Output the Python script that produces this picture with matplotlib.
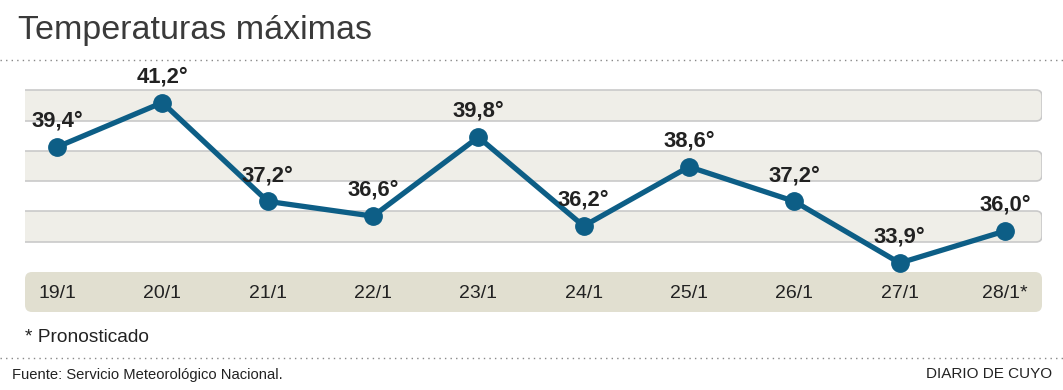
import numpy as np
import matplotlib
matplotlib.use('Agg')
from matplotlib import pyplot as plt
from matplotlib.patches import FancyBboxPatch
from matplotlib.lines import Line2D

plt.rcParams['font.family'] = ['Liberation Sans', 'DejaVu Sans']

# datos
dias = ['19/1', '20/1', '21/1', '22/1', '23/1', '24/1', '25/1', '26/1', '27/1', '28/1*']
temps = [39.4, 41.2, 37.2, 36.6, 39.8, 36.2, 38.6, 37.2, 33.9, 36.0]

W, H = 1063, 390
LINE = '#0d5e86'


def fx(px):
    return px / W


def fy(py):
    return 1 - py / H


def inch(px):
    return px / 100.0


# escala comprimida debajo de 36 grados (como en el original)
def fwd(t):
    t = np.asarray(t, dtype=float)
    return np.where(t >= 36, t, 36 - (36 - t) * 0.617)


def inv(f):
    f = np.asarray(f, dtype=float)
    return np.where(f >= 36, f, 36 - (36 - f) / 0.617)


fig = plt.figure(figsize=(10.63, 3.9), dpi=100)
ax = fig.add_axes([fx(25), fy(312), fx(1042) - fx(25), (312 - 80) / H])
ax.set_xlim(-0.304, 9.351)
ax.set_yscale('function', functions=(fwd, inv))
ax.set_ylim(float(inv(36 - (312 - 231) / 24.7)), 36 + (231 - 80) / 24.7)
ax.axis('off')

# franjas de fondo
for top, bot in [(90, 121), (151, 181), (211, 242)]:
    band = FancyBboxPatch((inch(5), inch(H - bot)), inch(1042 - 5), inch(bot - top),
                          boxstyle='round,pad=0,rounding_size=0.06',
                          transform=fig.dpi_scale_trans, facecolor='#efeee8',
                          edgecolor='#c9c9c9', linewidth=1.2, zorder=0)
    ax.add_patch(band)

date_band = FancyBboxPatch((inch(25), inch(H - 312)), inch(1042 - 25), inch(312 - 272),
                           boxstyle='round,pad=0,rounding_size=0.07',
                           transform=fig.dpi_scale_trans, facecolor='#e1dfd0',
                           edgecolor='none', zorder=0, clip_on=False)
ax.add_patch(date_band)

x = np.arange(len(temps))
ax.plot(x, temps, color=LINE, linewidth=3.8, marker='o', markersize=12.5,
        zorder=3, clip_on=False)

for i, v in enumerate(temps):
    lab = f"{v:.1f}".replace('.', ',') + '°'
    ax.annotate(lab, (i, v), xytext=(0, 11), textcoords='offset points',
                ha='center', va='bottom', fontsize=15.8, fontweight='bold',
                color='#222222', zorder=4, annotation_clip=False)

yd = (312 - 293) / (312 - 80)
for i, d in enumerate(dias):
    ax.text(i, yd, d, transform=ax.get_xaxis_transform(), ha='center', va='center',
            fontsize=14, color='#222222')

# textos
fig.text(fx(18), fy(39), 'Temperaturas máximas', fontsize=24.5, color='#3a3a3a',
         va='baseline', ha='left')
fig.add_artist(Line2D([0, 1], [fy(60), fy(60)], transform=fig.transFigure,
                      color='#888888', linestyle=(0, (1, 3)), linewidth=1))
fig.text(fx(25), fy(338), '* Pronosticado', fontsize=13.8, color='#222222',
         va='center', ha='left')
fig.add_artist(Line2D([0, 1], [fy(358), fy(358)], transform=fig.transFigure,
                      color='#888888', linestyle=(0, (1, 3)), linewidth=1))
fig.text(fx(12), fy(375), 'Fuente: Servicio Meteorológico Nacional.', fontsize=10.6,
         color='#222222', va='center', ha='left')
fig.text(fx(1052), fy(374), 'DIARIO DE CUYO', fontsize=11, color='#222222',
         va='center', ha='right')

fig.savefig('out.png', dpi=100)
